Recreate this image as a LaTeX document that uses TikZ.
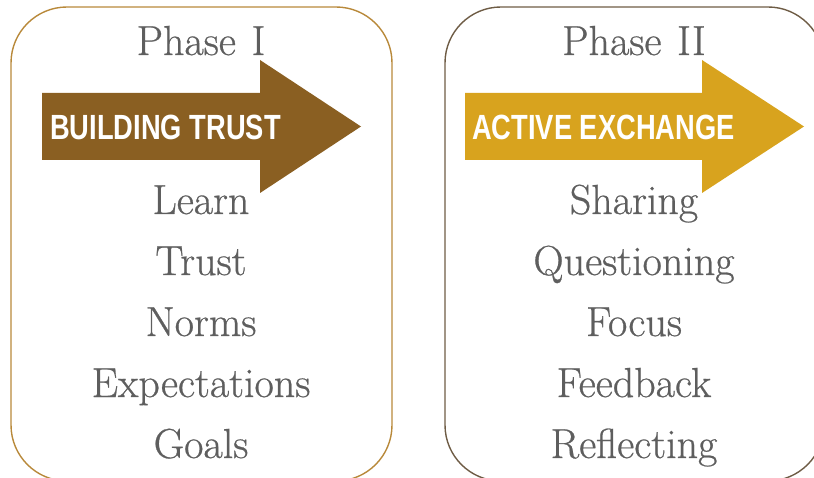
\documentclass[tikz,border=0pt]{standalone}
\usepackage{fontspec}
\newfontfamily\arrowfont[FakeStretch=0.78]{Liberation Sans Bold}
\newfontfamily\listfont[FakeBold=0.6]{Latin Modern Roman}
\definecolor{boxone}{HTML}{B8893A}
\definecolor{boxtwo}{HTML}{6E5C45}
\definecolor{arrowone}{HTML}{8A5F22}
\definecolor{arrowtwo}{HTML}{D8A31E}
\definecolor{txtgray}{HTML}{5E5E5E}
\tikzset{
  phasebox/.style={line width=1.4pt, rounded corners=56pt},
  bigtxt/.style={anchor=base, inner sep=0pt, text=txtgray, font=\listfont\fontsize{42}{50}\selectfont},
  arrtxt/.style={anchor=base west, inner sep=0pt, text=white, font=\arrowfont\fontsize{35}{40}\selectfont},
}
\begin{document}
\begin{tikzpicture}[x=1pt,y=1pt]
\useasboundingbox (0,0) rectangle (814,-478);
\clip (0,0) rectangle (814,-478);
% boxes
\draw[phasebox, boxone] (11,-7) rectangle (392,-481);
\draw[phasebox, boxtwo] (445,-7) rectangle (824,-481);
% titles
\node[bigtxt] (p1) at (201,-55) {Phase\hspace{3pt} I};
\node[bigtxt] (p2) at (634,-55) {Phase\hspace{3pt} II};
% arrows
\fill[arrowone] (42,-93) -- (260,-93) -- (260,-60) -- (361,-126.5) -- (260,-193) -- (260,-160) -- (42,-160) -- cycle;
\fill[arrowtwo] (465,-93) -- (702,-93) -- (702,-60) -- (804,-126.5) -- (702,-193) -- (702,-160) -- (465,-160) -- cycle;
\node[arrtxt] (a1) at (50,-140) {BUILDING TRUST};
\node[arrtxt] (a2) at (472,-140) {ACTIVE EXCHANGE};
% lists
\node[bigtxt] (l1) at (201,-214) {Learn};
\node[bigtxt] (l2) at (201,-275) {Trust};
\node[bigtxt] (l3) at (201,-336) {Norms};
\node[bigtxt] (l4) at (201,-397) {Expectations};
\node[bigtxt] (l5) at (201,-458) {Goals};
\node[bigtxt] (r1) at (634,-214) {Sharing};
\node[bigtxt] (r2) at (634,-275) {Questioning};
\node[bigtxt] (r3) at (634,-336) {Focus};
\node[bigtxt] (r4) at (634,-397) {Feedback};
\node[bigtxt] (r5) at (634,-458) {Reflecting};
\end{tikzpicture}
\end{document}
